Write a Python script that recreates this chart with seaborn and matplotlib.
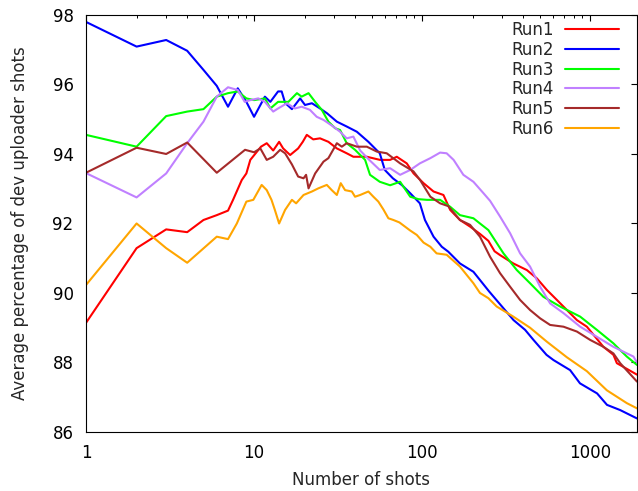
import matplotlib
matplotlib.use('Agg')
import matplotlib.pyplot as plt
import seaborn as sns
import pandas as pd
from matplotlib.ticker import LogLocator, NullFormatter

# values (shots, average percentage)
run1_x = [1, 2, 3, 4, 5, 6, 7, 7.5, 8.45, 9, 9.5, 11, 11.9, 13, 14.1, 14.9, 16.4, 18.3, 19.5, 20.6,
          22.5, 24.7, 27.7, 31.1, 35.6, 39, 46.9, 56.2, 64.5, 70.7, 81, 89, 102, 117, 134, 147, 168,
          193, 221, 248, 270, 291, 349, 420, 482, 552, 634, 727, 834, 956, 1071, 1200, 1376, 1442, 1900]
run1_y = [89.14, 91.29, 91.83, 91.75, 92.1, 92.24, 92.37, 92.68, 93.25, 93.44, 93.83, 94.21, 94.31, 94.1,
          94.35, 94.16, 93.97, 94.16, 94.35, 94.55, 94.42, 94.45, 94.35, 94.16, 94.02, 93.92, 93.92, 93.83,
          93.83, 93.92, 93.73, 93.44, 93.16, 92.92, 92.82, 92.39, 92.1, 91.91, 91.7, 91.5, 91.2, 91.09,
          90.85, 90.66, 90.42, 90.09, 89.8, 89.51, 89.22, 89.03, 88.74, 88.45, 88.22, 87.98, 87.65]

run2_x = [1, 2, 3, 4, 5, 6, 7, 8, 9, 10, 11.6, 12.5, 13.9, 14.6, 15.3, 16.8, 18.8, 20.1, 22.1, 24.7,
          27.2, 31.1, 35.6, 40.9, 47.9, 56, 60, 67, 76, 85, 97, 104, 117, 131, 143, 168, 202, 250,
          350, 410, 460, 550, 605, 760, 870, 1100, 1260, 1510, 1900]
run2_y = [97.8, 97.09, 97.28, 96.97, 96.42, 95.96, 95.36, 95.89, 95.5, 95.07, 95.65, 95.5, 95.8, 95.8,
          95.47, 95.29, 95.6, 95.41, 95.46, 95.31, 95.17, 94.93, 94.79, 94.64, 94.35, 94.02, 93.54, 93.3,
          93.1, 92.87, 92.58, 92.1, 91.62, 91.33, 91.19, 90.85, 90.61, 90.05, 89.22, 88.94, 88.65, 88.22,
          88.07, 87.78, 87.4, 87.11, 86.78, 86.63, 86.39]

run3_x = [1, 2, 3, 4, 5, 6, 7, 8, 9, 10, 11.6, 12.5, 13.9, 15, 16, 18, 19.2, 21.1, 23.1, 25.3, 27.7,
          30.4, 32.5, 35.6, 39.9, 45.8, 49, 56, 64.5, 74, 85, 95, 107, 128, 147, 168, 202, 221, 248,
          305, 366, 439, 527, 663, 872, 1096, 1376, 1653, 1900]
run3_y = [94.55, 94.21, 95.09, 95.22, 95.29, 95.65, 95.75, 95.8, 95.6, 95.55, 95.6, 95.31, 95.5, 95.5,
          95.5, 95.75, 95.65, 95.75, 95.5, 95.27, 94.93, 94.74, 94.69, 94.31, 94.12, 93.83, 93.4, 93.2,
          93.1, 93.2, 92.77, 92.7, 92.68, 92.68, 92.48, 92.24, 92.15, 92.0, 91.81, 91.14, 90.66, 90.28,
          89.89, 89.61, 89.32, 88.94, 88.55, 88.17, 87.93]

run4_x = [1, 2, 3, 4, 5, 6, 7, 8, 8.8, 9.5, 10.6, 11.6, 13, 13.9, 15.7, 17.5, 19.2, 21.5, 23.6, 25.9,
          29.6, 32.5, 35.6, 39, 42.8, 48, 56, 64.5, 74, 85, 97, 112, 128, 140, 154, 176, 202, 232, 254,
          291, 334, 383, 439, 504, 578, 694, 872, 1096, 1376, 1811, 1900]
run4_y = [93.45, 92.75, 93.44, 94.31, 94.93, 95.65, 95.92, 95.84, 95.5, 95.55, 95.6, 95.5, 95.22, 95.31,
          95.46, 95.31, 95.36, 95.27, 95.07, 94.98, 94.79, 94.64, 94.45, 94.5, 94.1, 93.85, 93.54, 93.59,
          93.4, 93.54, 93.73, 93.88, 94.04, 94.02, 93.83, 93.4, 93.2, 92.87, 92.65, 92.2, 91.72, 91.14,
          90.76, 90.18, 89.7, 89.42, 89.03, 88.74, 88.45, 88.17, 88.0]

run5_x = [1, 2, 3, 4, 6, 8.84, 10, 10.9, 11.9, 13, 14.3, 15.3, 16.8, 18.3, 19.7, 20.4, 21.1, 23.1, 25.9,
          27.7, 31.1, 33.3, 35.6, 40.9, 46.9, 53.7, 61.6, 74, 88.8, 97.3, 112, 128, 143, 168, 193, 221,
          254, 291, 334, 383, 439, 504, 578, 694, 834, 1000, 1200, 1376, 1509, 1900]
run5_y = [93.46, 94.18, 94.0, 94.33, 93.46, 94.12, 94.05, 94.16, 93.83, 93.92, 94.12, 94.02, 93.7, 93.35,
          93.3, 93.4, 93.01, 93.44, 93.78, 93.88, 94.31, 94.21, 94.31, 94.21, 94.21, 94.07, 94.02, 93.73,
          93.5, 93.25, 92.77, 92.58, 92.5, 92.1, 91.96, 91.62, 91.04, 90.57, 90.18, 89.8, 89.51, 89.27,
          89.08, 89.03, 88.89, 88.65, 88.45, 88.26, 87.98, 87.45]

run6_x = [1, 2, 3, 4, 6, 7, 7.9, 9, 9.9, 11.1, 11.9, 12.7, 13.3, 14.1, 15.3, 16.8, 17.8, 19.7, 22.1,
          24.1, 27.1, 29, 31.1, 32.8, 34.8, 38.2, 39.9, 42.8, 47.9, 51.3, 54.9, 58.9, 63, 67.5, 73.3,
          84.8, 93, 102, 112, 122, 140, 168, 202, 221, 248, 278, 349, 439, 552, 727, 956, 1257, 1653, 1900]
run6_y = [90.23, 92.0, 91.29, 90.87, 91.62, 91.55, 92.0, 92.63, 92.68, 93.11, 92.96, 92.68, 92.39, 92.0,
          92.39, 92.68, 92.58, 92.82, 92.92, 93.01, 93.11, 92.96, 92.82, 93.16, 92.96, 92.92, 92.77, 92.82,
          92.92, 92.77, 92.63, 92.4, 92.15, 92.1, 92.03, 91.8, 91.67, 91.45, 91.33, 91.14, 91.1, 90.76,
          90.28, 90.0, 89.85, 89.61, 89.32, 89.0, 88.6, 88.15, 87.75, 87.2, 86.83, 86.68]

run_names = ["Run1", "Run2", "Run3", "Run4", "Run5", "Run6"]
run_colors = ["#ff0000", "#0000ff", "#00ff00", "#c080ff", "#a52a2a", "#ffa500"]
xtick_values = [1, 10, 100, 1000]
xtick_labels = ["1", "10", "100", "1000"]
ytick_values = [86, 88, 90, 92, 94, 96, 98]

series = [(run1_x, run1_y), (run2_x, run2_y), (run3_x, run3_y),
          (run4_x, run4_y), (run5_x, run5_y), (run6_x, run6_y)]
frames = []
for name, (xs, ys) in zip(run_names, series):
    frames.append(pd.DataFrame({"shots": xs, "pct": ys, "run": name}))
df = pd.concat(frames, ignore_index=True)

sns.set_style("white")
plt.rcParams['font.family'] = ['DejaVu Sans']

fig = plt.figure(figsize=(6.38, 4.91), dpi=100)
ax = fig.add_axes([0.1348, 0.1202, 0.8636, 0.8493])

sns.lineplot(data=df, x="shots", y="pct", hue="run", palette=run_colors,
             estimator=None, sort=True, linewidth=1.5, ax=ax, legend=False)

ax.set_xscale("log")
ax.set_xlim(1, 1900)
ax.set_ylim(86, 98)
ax.set_xticks(xtick_values, labels=xtick_labels)
ax.xaxis.set_minor_locator(LogLocator(base=10, subs=range(2, 10)))
ax.xaxis.set_minor_formatter(NullFormatter())
ax.set_yticks(ytick_values)

for sp in ax.spines.values():
    sp.set_color("black")
    sp.set_linewidth(0.8)
ax.tick_params(which="both", direction="in", top=True, right=True, colors="black", labelsize=12)
ax.tick_params(which="major", length=4.5, width=0.8, pad=9)
ax.tick_params(which="minor", length=2.5, width=0.7)

ax.set_xlabel("Number of shots", fontsize=12, labelpad=6)
ax.set_ylabel("Average percentage of dev uploader shots", fontsize=12, labelpad=17)

handles = [plt.Line2D([], [], color=c, linewidth=1.5) for c in run_colors]
ax.legend(handles, run_names, loc="upper right", bbox_to_anchor=(0.967, 0.985),
          frameon=False, markerfirst=False, fontsize=12, handlelength=3.2,
          handletextpad=0.7, labelspacing=0.1, borderpad=0, borderaxespad=0)

fig.savefig("out.png", dpi=100)
